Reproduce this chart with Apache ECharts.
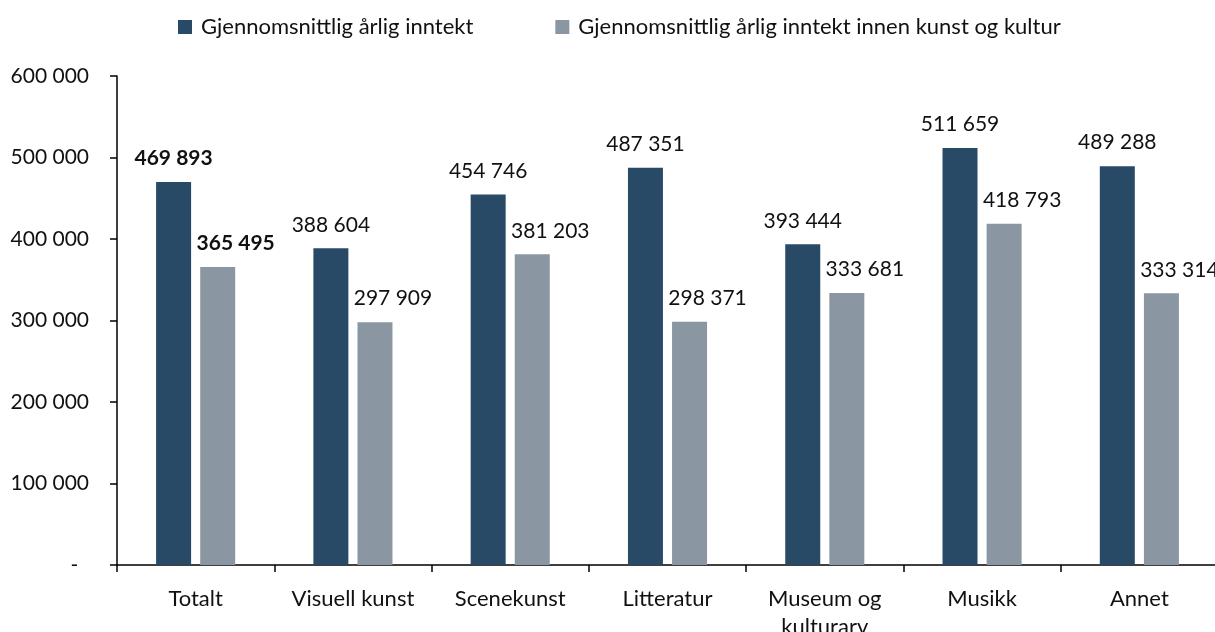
<!DOCTYPE html>
<html>
<head>
<meta charset="utf-8">
<script src="https://cdn.jsdelivr.net/npm/echarts@6/dist/echarts.min.js"></script>
<style>
  html, body { margin: 0; padding: 0; background: #fff; overflow: hidden; }
  #chart { width: 1215px; height: 632px; }
</style>
</head>
<body>
<div id="chart"></div>
<script>
// Kategorier og verdier
const categories = ['Totalt', 'Visuell kunst', 'Scenekunst', 'Litteratur', 'Museum og\nkulturarv', 'Musikk', 'Annet'];
const seriesNames = ['Gjennomsnittlig årlig inntekt', 'Gjennomsnittlig årlig inntekt innen kunst og kultur'];
const totalIncome = [469893, 388604, 454746, 487351, 393444, 511659, 489288];
const artsIncome = [365495, 297909, 381203, 298371, 333681, 418793, 333314];
const yTicks = [0, 100000, 200000, 300000, 400000, 500000, 600000];

const FONT = 'Lato';
const NUM_SIZE = 21;
const TEXT_SIZE = 22;
const fmt = v => String(Math.round(v)).replace(/\B(?=(\d{3})+(?!\d))/g, ' ');

// Første kategori (Totalt) vises med fet skrift
const toData = arr => arr.map((v, i) => i === 0 ? { value: v, label: { fontWeight: 'bold' } } : v);

const chart = echarts.init(document.getElementById('chart'), null, { renderer: 'canvas' });
chart.setOption({
  animation: false,
  textStyle: { fontFamily: FONT },
  legend: {
    top: 11,
    left: 173,
    icon: 'rect',
    itemWidth: 14,
    itemHeight: 14,
    itemGap: 82,
    textStyle: { fontFamily: FONT, fontSize: TEXT_SIZE, color: '#111', padding: [0, 0, 0, 4] },
    data: seriesNames
  },
  grid: { left: 117, right: -3, top: 76, bottom: 67, containLabel: false, outerBoundsMode: 'none' },
  xAxis: {
    type: 'category',
    data: categories,
    axisLine: { lineStyle: { color: '#000', width: 1.5 } },
    axisTick: { show: true, length: 7, alignWithLabel: false, lineStyle: { color: '#000', width: 1.5 } },
    axisLabel: { fontFamily: FONT, fontSize: TEXT_SIZE, color: '#111', margin: 20, lineHeight: 28, interval: 0 }
  },
  yAxis: {
    type: 'value',
    min: yTicks[0],
    max: yTicks[yTicks.length - 1],
    interval: 100000,
    splitLine: { show: false },
    axisLine: { show: true, lineStyle: { color: '#000', width: 1.5 } },
    axisTick: { show: true, length: 7, lineStyle: { color: '#000', width: 1.5 } },
    axisLabel: {
      fontFamily: FONT, fontSize: NUM_SIZE, color: '#111', margin: 28,
      formatter: v => v === 0 ? '-  ' : fmt(v)
    }
  },
  series: [
    {
      name: seriesNames[0],
      type: 'bar',
      data: toData(totalIncome),
      barWidth: 35,
      barGap: '26%',
      itemStyle: { color: '#294a66' },
      label: {
        show: true, position: 'top', distance: 13,
        fontFamily: FONT, fontSize: NUM_SIZE, color: '#111',
        formatter: p => fmt(p.value)
      }
    },
    {
      name: seriesNames[1],
      type: 'bar',
      data: toData(artsIncome),
      barWidth: 35,
      itemStyle: { color: '#8a97a3' },
      label: {
        show: true, position: 'top', distance: 13, offset: [18, 0],
        fontFamily: FONT, fontSize: NUM_SIZE, color: '#111',
        formatter: p => fmt(p.value)
      }
    }
  ]
});
</script>
</body>
</html>
